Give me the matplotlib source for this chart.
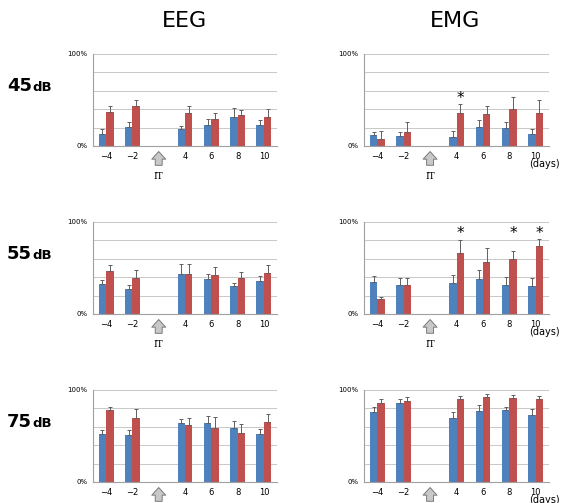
import matplotlib
matplotlib.use('Agg')
import matplotlib.pyplot as plt
import numpy as np

# Категории по оси X (дни), IT - пустой слот
days = ['\u22124', '\u22122', '', '4', '6', '8', '10']
rows = ['45', '55', '75']

# EEG: синие / красные столбцы и верхние погрешности (%)
eeg_blue = {
    '45': [13, 21, None, 18, 23, 31, 23],
    '55': [33, 27, None, 44, 38, 30, 36],
    '75': [52, 51, None, 64, 64, 59, 52],
}
eeg_blue_err = {
    '45': [6, 5, 0, 4, 6, 10, 5],
    '55': [4, 5, 0, 10, 6, 4, 5],
    '75': [5, 6, 0, 5, 8, 7, 6],
}
eeg_red = {
    '45': [37, 43, None, 36, 29, 34, 32],
    '55': [47, 39, None, 44, 42, 39, 45],
    '75': [78, 70, None, 62, 59, 53, 65],
}
eeg_red_err = {
    '45': [7, 7, 0, 8, 7, 5, 8],
    '55': [6, 9, 0, 10, 9, 7, 8],
    '75': [4, 9, 0, 8, 12, 10, 9],
}

# EMG
emg_blue = {
    '45': [12, 11, None, 10, 21, 20, 13],
    '55': [35, 32, None, 34, 38, 32, 30],
    '75': [76, 86, None, 70, 77, 78, 73],
}
emg_blue_err = {
    '45': [3, 4, 0, 6, 7, 6, 6],
    '55': [6, 7, 0, 8, 10, 8, 9],
    '75': [5, 4, 0, 6, 7, 4, 6],
}
emg_red = {
    '45': [8, 15, None, 36, 35, 40, 36],
    '55': [16, 31, None, 66, 56, 60, 74],
    '75': [86, 88, None, 90, 92, 91, 90],
}
emg_red_err = {
    '45': [8, 11, 0, 10, 9, 13, 14],
    '55': [3, 8, 0, 14, 16, 8, 7],
    '75': [4, 4, 0, 4, 4, 4, 3],
}

# звёздочки значимости: (индекс слота, высота %)
emg_stars = {
    '45': [(3, 52)],
    '55': [(3, 87), (5, 87), (6, 87)],
    '75': [],
}

BLUE = '#4F81BD'
RED = '#C0504D'
W, H = 561, 503

fig = plt.figure(figsize=(W / 100, H / 100), dpi=100)

row_px = [(54, 146), (222, 314), (390, 482)]
col_px = [(93, 277), (364, 549)]


def draw_panel(ax, blue, blue_err, red, red_err, stars, show_days):
    x = np.arange(len(days))
    bw = 0.28
    b = np.array([np.nan if v is None else v for v in blue], dtype=float)
    r = np.array([np.nan if v is None else v for v in red], dtype=float)
    ax.bar(x - bw / 2, b, bw, color=BLUE, zorder=2)
    ax.bar(x + bw / 2, r, bw, color=RED, zorder=2)
    eb = dict(fmt='none', ecolor='#606060', elinewidth=0.7, capsize=1.2, capthick=0.7, zorder=3)
    ax.errorbar(x - bw / 2, b, yerr=[np.zeros(len(x)), blue_err], **eb)
    ax.errorbar(x + bw / 2, r, yerr=[np.zeros(len(x)), red_err], **eb)
    for i, h in stars:
        ax.text(x[i] + bw / 2, h, '*', ha='center', va='center', fontsize=11)

    ax.set_xlim(-0.5, len(days) - 0.5)
    ax.set_ylim(0, 100)
    ax.set_yticks([0, 20, 40, 60, 80, 100])
    ax.set_yticklabels(['0%', '', '', '', '', '100%'], fontsize=5)
    ax.set_xticks(x)
    ax.set_xticklabels(days, fontsize=6)
    ax.tick_params(length=0, pad=4)
    ax.grid(axis='y', color='#c8c8c8', linewidth=0.7, zorder=0)
    for s in ['top', 'right']:
        ax.spines[s].set_visible(False)
    for s in ['left', 'bottom']:
        ax.spines[s].set_color('#a0a0a0')
        ax.spines[s].set_linewidth(0.8)

    # стрелка IT
    ax.annotate('', xy=(2, -0.03), xytext=(2, -0.24),
                xycoords=('data', 'axes fraction'),
                textcoords=('data', 'axes fraction'),
                arrowprops=dict(arrowstyle='simple,head_width=1.0,head_length=0.55,tail_width=0.5',
                                fc='#c8c8c8', ec='#7a7a7a', lw=0.7),
                annotation_clip=False)
    ax.text(2, -0.33, 'IT', transform=ax.get_xaxis_transform(),
            ha='center', va='center', fontsize=6.5, family='DejaVu Serif')
    if show_days:
        ax.text(5.75, -0.2, '(days)', transform=ax.get_xaxis_transform(),
                ha='left', va='center', fontsize=7, clip_on=False)


for ri, row in enumerate(rows):
    top, bot = row_px[ri]
    for ci, (l, rgt) in enumerate(col_px):
        ax = fig.add_axes([l / W, 1 - bot / H, (rgt - l) / W, (bot - top) / H])
        if ci == 0:
            draw_panel(ax, eeg_blue[row], eeg_blue_err[row], eeg_red[row],
                       eeg_red_err[row], [], False)
        else:
            draw_panel(ax, emg_blue[row], emg_blue_err[row], emg_red[row],
                       emg_red_err[row], emg_stars[row], True)
    y = 1 - (top + 37) / H
    fig.text(32 / W, y, row, ha='right', va='baseline', fontsize=13, fontweight='bold')
    fig.text(32 / W, y, 'dB', ha='left', va='baseline', fontsize=9.5, fontweight='bold')

fig.text(185 / W, 1 - 21 / H, 'EEG', ha='center', va='center', fontsize=16)
fig.text(455 / W, 1 - 21 / H, 'EMG', ha='center', va='center', fontsize=16)

plt.savefig('out.png', dpi=100)
